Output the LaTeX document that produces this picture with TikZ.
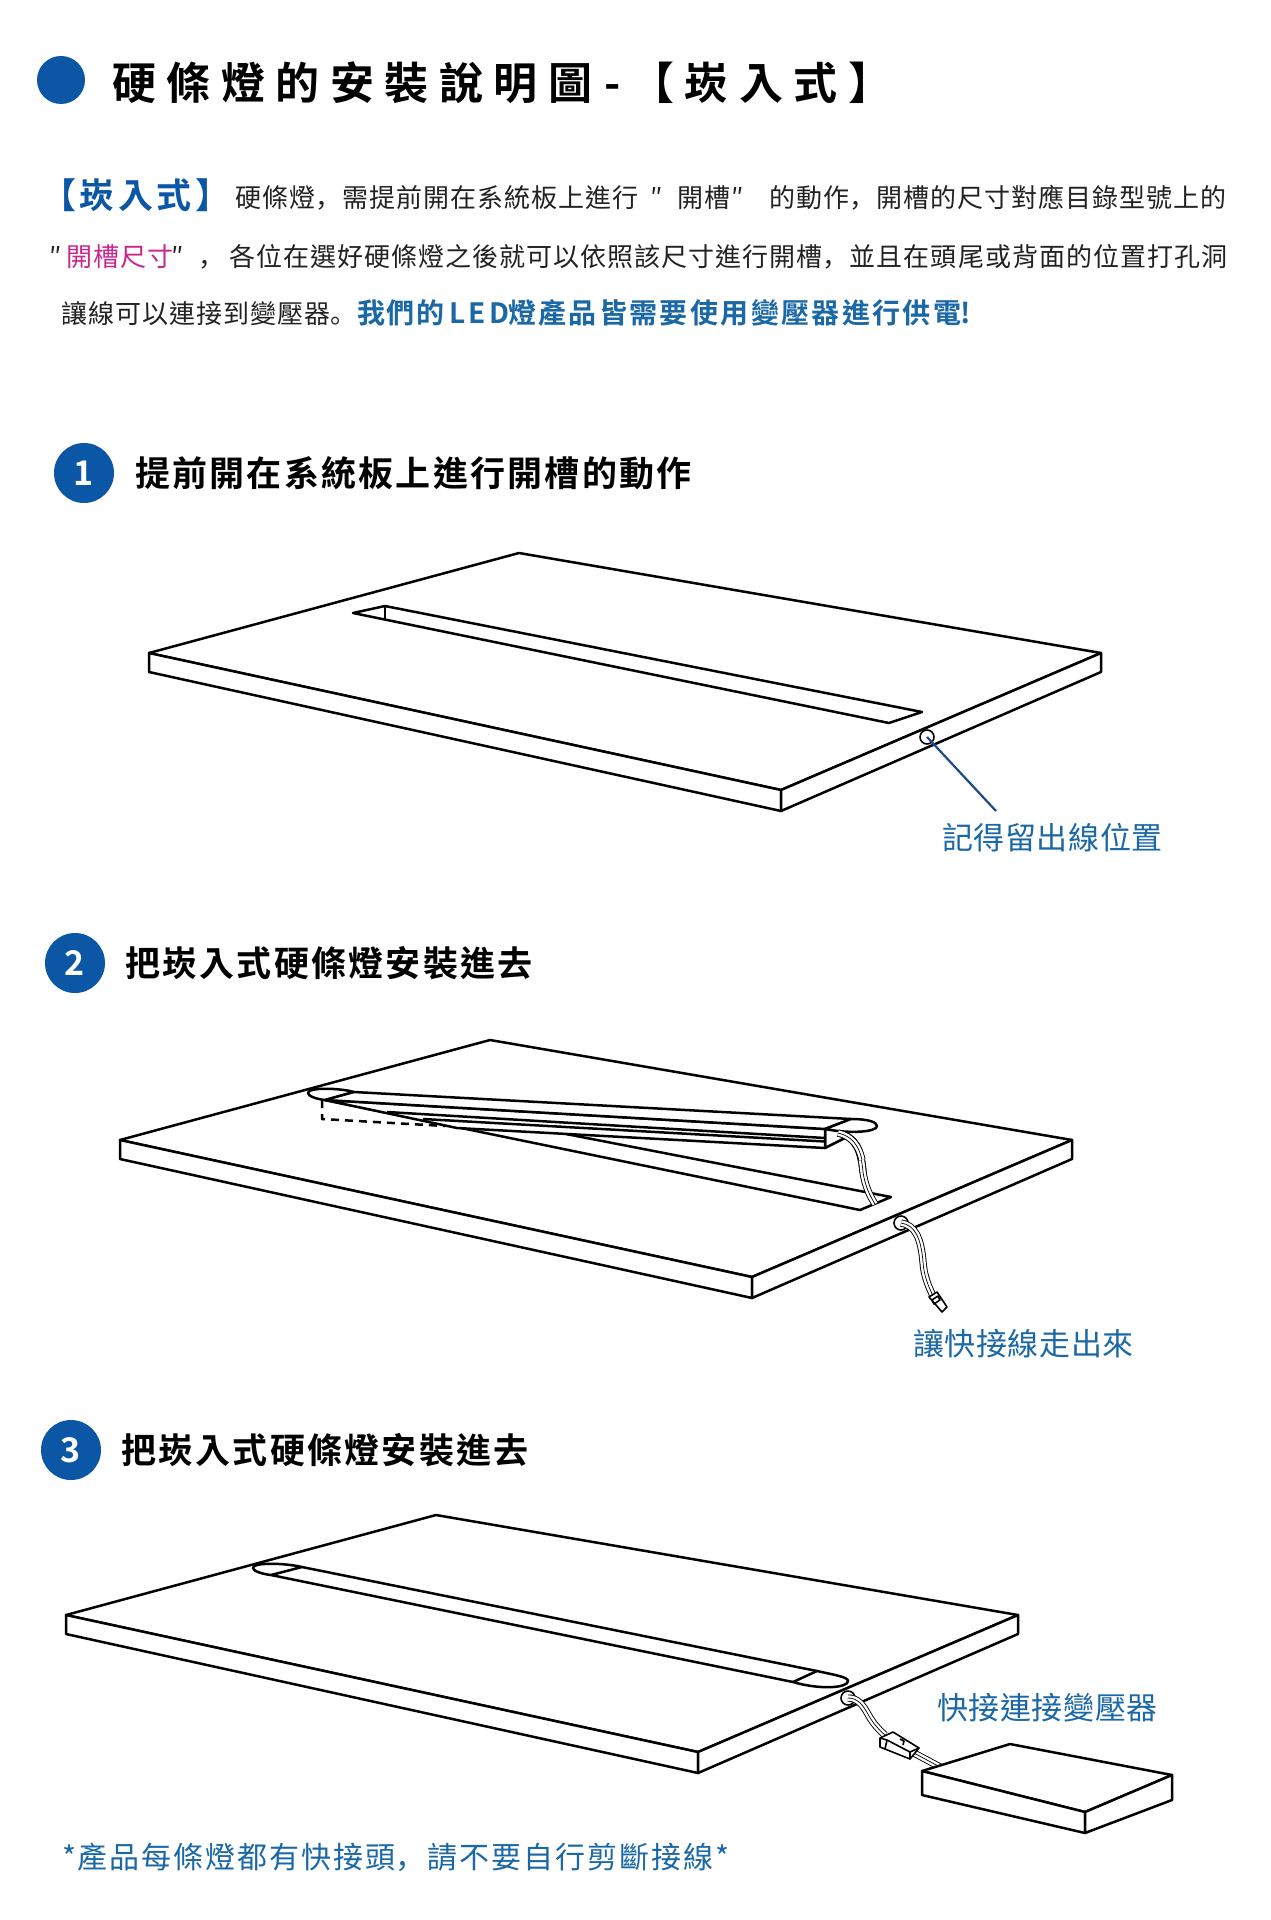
\documentclass[tikz,border=0pt]{standalone}
\usepackage{fontspec}
\setmainfont{Noto Sans CJK TC}[BoldFont={Noto Sans CJK TC Bold}]
\newfontfamily\scf{Noto Sans CJK SC}
\definecolor{dotblue}{HTML}{0B57A6}
\definecolor{tblue}{HTML}{1B68A6}
\definecolor{tpink}{HTML}{C8288C}
\definecolor{tgray}{HTML}{222222}
\definecolor{leadblue}{HTML}{1F4A8A}
\newcommand\curls{0}
\newcommand\cm{{\scf ，}\hspace{\fpeval{\curls/100}em}}
\newcommand\pe{{\scf 。}\hspace{\fpeval{\curls/100}em}}
\newcommand\txt[7]{\node[lbl] (#1) at (#2,{#3+0.38*#4}) {\renewcommand\curls{#5}\fontsize{\fpeval{#4/2}}{\fpeval{#4/2}}\selectfont #6\addfontfeature{LetterSpace=#5}#7};}
\tikzset{
 lbl/.style={anchor=base west,inner sep=0pt,outer sep=0pt},
 ln/.style={draw=black,line width=1.25pt,line join=round},
 face/.style={ln,fill=white},
 thin/.style={draw=black,line width=.8pt,line join=round},
 stepdot/.style={circle,fill=dotblue,minimum size=30pt,inner sep=0pt,text=white,font=\fontsize{17}{17}\selectfont\bfseries},
 hole/.style={circle,draw=black,fill=white,line width=.8pt,minimum size=7pt,inner sep=0pt},
 cable/.style={preaction={draw=black,line width=3.6pt},preaction={draw=white,line width=2.7pt},draw=black,line width=.35pt,line cap=butt},
}
\newcommand\boardshape[2]{\begin{scope}[shift={(#1,#2)}]
 \draw[face] (149,653)--(519,553)--(1101,653)--(781,790)--cycle;
 \draw[face] (149,653)--(149,672)--(781,811)--(781,790)--cycle;
 \draw[face] (781,790)--(781,811)--(1101,672)--(1101,653)--cycle;
\end{scope}}
\begin{document}
\begin{tikzpicture}[x=0.5pt,y=-0.5pt]
\useasboundingbox (0,0) rectangle (1270,1920);
\fill[white] (0,0) rectangle (1270,1920);
% ---- title
\node[circle,fill=dotblue,minimum size=24pt,inner sep=0pt] (tdot) at (61,80) {};
\txt{t1}{112}{83}{44}{24}{\bfseries}{硬條燈的安裝說明圖}
\txt{t2}{604}{83}{44}{0}{\bfseries}{-}
\txt{t3}{630}{83}{44}{24}{\bfseries}{【崁入式】}
% ---- paragraph
\txt{p1}{41}{195}{35}{10}{\bfseries\color{dotblue}}{【崁入式】}
\txt{p2}{235}{198}{26}{4}{\color{tgray}}{硬條燈\cm 需提前開在系統板上進行}
\txt{p3}{650}{198}{26}{0}{\color{tgray}}{″}
\txt{p4}{677}{198}{26}{4}{\color{tgray}}{開槽}
\txt{p5}{731}{198}{26}{0}{\color{tgray}}{″}
\txt{p6}{769}{198}{26}{4}{\color{tgray}}{的動作\cm 開槽的尺寸對應目錄型號上的}
\txt{q1}{49}{257}{26}{0}{\color{tgray}}{″}
\txt{q2}{66}{257}{26}{4}{\color{tpink}}{開槽尺寸}
\txt{q3}{171}{257}{26}{0}{\color{tgray}}{″}
\txt{q4}{198}{257}{26}{0}{\color{tgray}}{\cm}
\txt{q5}{229}{257}{26}{4}{\color{tgray}}{各位在選好硬條燈之後就可以依照該尺寸進行開槽\cm 並且在頭尾或背面的位置打孔洞}
\txt{r1}{61}{314}{26}{4}{\color{tgray}}{讓線可以連接到變壓器\pe}
\txt{r2}{357}{313}{28}{7}{\bfseries\color{tblue}}{我們的}
\txt{r3}{449}{313}{28}{13}{\bfseries\color{tblue}}{LED}
\txt{r4}{508}{313}{28}{8.5}{\bfseries\color{tblue}}{燈產品皆需要使用變壓器進行供電}
\txt{r5}{960}{313}{28}{0}{\bfseries\color{tblue}}{!}
% ---- step 1
\node[stepdot] (s1) at (84,473) {1};
\txt{s1t}{135}{473}{35}{6.5}{\bfseries}{提前開在系統板上進行開槽的動作}
\boardshape{0}{0}
\draw[ln] (353,613)--(385,606)--(922,712)--(889,723)--cycle;
\draw[ln] (385,606)--(385,619);
\node[hole] (h1) at (927,737) {};
\coordinate (lead1) at (996,811);
\draw[draw=leadblue,line width=1.1pt] (h1.center)--(lead1);
\txt{l1}{942}{838}{31}{2}{\color{tblue}}{記得留出線位置}
% ---- step 2
\node[stepdot] (s2) at (75,963) {2};
\txt{s2t}{125}{963}{35}{6.5}{\bfseries}{把崁入式硬條燈安裝進去}
\boardshape{-29}{487}
% slot
\draw[ln] (325,1100)--(860,1210)--(891,1197)--(566,1134);
\draw[ln,dash pattern=on 4pt off 3pt] (322,1100)--(322,1119)--(445,1126);
% cable from strip to slot
\path[cable] (838,1133) .. controls (856,1137) and (861,1150) .. (863,1172) .. controls (865,1186) and (870,1196) .. (875,1204);
% strip
\draw[face] (825,1148)--(845,1138)--(845,1128)--(825,1129)--cycle;
\path[cable] (838,1133) .. controls (856,1137) and (861,1150) .. (863,1172);
\draw[face] (325,1100)--(457,1128)--(825,1148)--(825,1129)--cycle;
\draw[ln] (387,1112)--(825,1138);
\draw[ln] (423,1119)--(825,1141.5);
\draw[face] (308,1093) .. controls (308,1096) and (316,1099) .. (325,1100)--(354,1092) .. controls (340,1088) and (308,1087) .. (308,1093)--cycle;
\draw[face] (325,1100)--(354,1092)--(851,1119)--(825,1129)--cycle;
\draw[face] (825,1129)--(851,1119) .. controls (868,1119) and (877,1122) .. (877,1126) .. controls (877,1132) and (850,1134) .. (825,1129)--cycle;
\path[cable] (838,1133) .. controls (852,1136) and (859,1146) .. (862,1160);
% hole and outgoing cable
\node[hole] (h2) at (901,1223) {};
\path[cable] (h2.center) .. controls (915,1225) and (921,1238) .. (923,1262) .. controls (924,1276) and (928,1285) .. (933,1296);
\draw[thin,fill=white] (929,1297)--(937,1292)--(947,1307)--(942,1312)--cycle;
\draw[thin] (932,1300)--(938,1296)--(940,1300)--(934,1304)--cycle;
\txt{l2}{913}{1344}{31}{2}{\color{tblue}}{讓快接線走出來}
% ---- step 3
\node[stepdot] (s3) at (71,1450) {3};
\txt{s3t}{121}{1450}{35}{6.5}{\bfseries}{把崁入式硬條燈安裝進去}
\boardshape{-83}{962}
\draw[ln] (302,1567)--(817,1671);
\draw[ln] (271,1575)--(793,1682);
\draw[ln] (271,1575)--(302,1567) .. controls (285,1563) and (253,1562) .. (253,1568) .. controls (253,1571) and (262,1574) .. (271,1575);
\draw[ln] (793,1682)--(817,1671) .. controls (835,1675) and (848,1677) .. (848,1681) .. controls (848,1688) and (820,1690) .. (793,1682);
\node[hole] (h3) at (848,1698) {};
\path[cable] (h3.center) .. controls (858,1698) and (863,1705) .. (869,1716) .. controls (873,1723) and (879,1730) .. (885,1735);
\path[cable] (912,1752)--(942,1768);
\draw[thin,fill=white] (880,1738)--(893,1732)--(919,1748)--(910,1759)--(880,1747)--cycle;
\draw[thin] (880,1738)--(887,1740)--(885,1749);
\draw[thin] (887,1740)--(910,1752)--(910,1759);
\draw[thin] (910,1752)--(919,1748);
\draw[thin] (900,1739)--(904,1741)--(903,1745);
% adapter box
\draw[face] (922,1771)--(1010,1744)--(1172,1775)--(1085,1812)--cycle;
\draw[face] (922,1771)--(922,1795)--(1085,1833)--(1085,1812)--cycle;
\draw[face] (1085,1812)--(1085,1833)--(1172,1800)--(1172,1775)--cycle;
\txt{l3}{937}{1708}{31}{2}{\color{tblue}}{快接連接變壓器}
\txt{n1}{62}{1857}{30}{6.5}{\color{tblue}}{*產品每條燈都有快接頭\cm 請不要自行剪斷接線*}
\end{tikzpicture}
\end{document}
